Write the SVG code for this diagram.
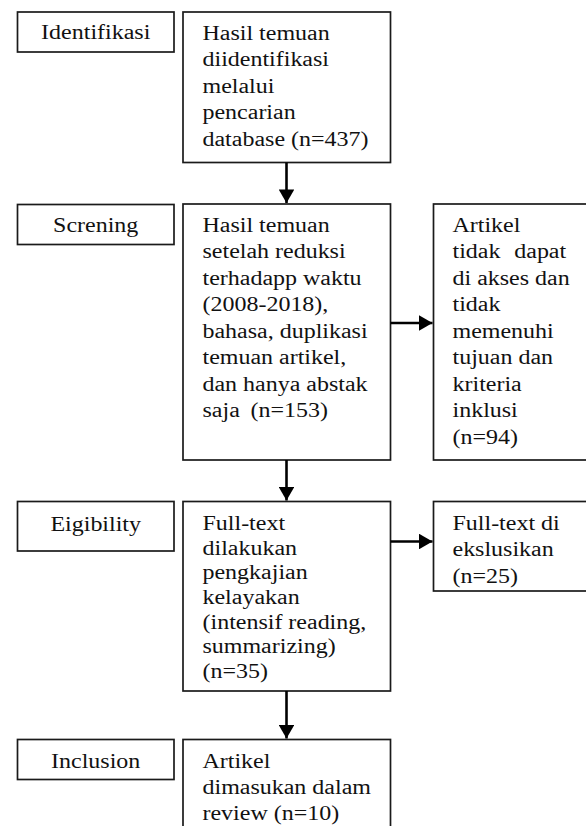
<svg xmlns="http://www.w3.org/2000/svg" width="586" height="826" viewBox="0 0 586 826">
<style>
.box{fill:#fff;stroke:#1a1a1a;stroke-width:1.7}
text{font-family:'Liberation Serif','Tinos','Times New Roman',serif;font-size:20.5px;fill:#111}
.c{text-anchor:middle}
.arr{stroke:#000;stroke-width:2.6;fill:none}
</style>
<defs>
<marker id="ah" markerWidth="6" markerHeight="6" refX="5.2" refY="3" orient="auto" markerUnits="strokeWidth">
<path d="M0,0 L5.2,3 L0,6 Z" fill="#000"/>
</marker>
</defs>
<rect width="586" height="826" fill="#fff"/>

<g id="label-identifikasi">
<rect class="box" x="17.5" y="12" width="156.5" height="40"/>
<text class="c" transform="translate(95.7,38.5) scale(1.17,1)">Identifikasi</text>
</g>
<g id="label-screning">
<rect class="box" x="17.5" y="204.5" width="156.5" height="40"/>
<text class="c" transform="translate(95.7,231.5) scale(1.17,1)">Screning</text>
</g>
<g id="label-eligibility">
<rect class="box" x="17.5" y="501.5" width="156.5" height="49.5"/>
<text class="c" transform="translate(95.7,531) scale(1.17,1)">Eigibility</text>
</g>
<g id="label-inclusion">
<rect class="box" x="17.5" y="739.5" width="156.5" height="40"/>
<text class="c" transform="translate(95.7,768) scale(1.17,1)">Inclusion</text>
</g>

<g id="box-identified">
<rect class="box" x="183" y="12" width="207.5" height="150.5"/>
<text transform="translate(202.5,40) scale(1.17,1)">
<tspan x="0" y="0">Hasil temuan</tspan>
<tspan x="0" y="26.5">diidentifikasi</tspan>
<tspan x="0" y="53">melalui</tspan>
<tspan x="0" y="79.5">pencarian</tspan>
<tspan x="0" y="106">database (n=437)</tspan>
</text>
</g>

<g id="box-screened">
<rect class="box" x="183" y="204" width="207.5" height="256"/>
<text transform="translate(202.5,232) scale(1.17,1)">
<tspan x="0" y="0">Hasil temuan</tspan>
<tspan x="0" y="26.5">setelah reduksi</tspan>
<tspan x="0" y="53">terhadapp waktu</tspan>
<tspan x="0" y="79.5">(2008-2018),</tspan>
<tspan x="0" y="106">bahasa, duplikasi</tspan>
<tspan x="0" y="132.5">temuan artikel,</tspan>
<tspan x="0" y="159">dan hanya abstak</tspan>
<tspan x="0" y="185.5">saja</tspan><tspan x="41" y="185.5">(n=153)</tspan>
</text>
</g>

<g id="box-excluded-screening">
<rect class="box" x="433.5" y="204" width="170" height="256"/>
<text transform="translate(452.5,232) scale(1.17,1)">
<tspan x="0" y="0">Artikel</tspan>
<tspan x="0" y="26.5">tidak</tspan><tspan x="52.8" y="26.5">dapat</tspan>
<tspan x="0" y="53">di akses dan</tspan>
<tspan x="0" y="79.5">tidak</tspan>
<tspan x="0" y="106">memenuhi</tspan>
<tspan x="0" y="132.5">tujuan dan</tspan>
<tspan x="0" y="159">kriteria</tspan>
<tspan x="0" y="185.5">inklusi</tspan>
<tspan x="0" y="212">(n=94)</tspan>
</text>
</g>

<g id="box-eligibility">
<rect class="box" x="183" y="501.5" width="207.5" height="189.5"/>
<text transform="translate(202.5,530) scale(1.17,1)">
<tspan x="0" y="0">Full-text</tspan>
<tspan x="0" y="24.7">dilakukan</tspan>
<tspan x="0" y="49.4">pengkajian</tspan>
<tspan x="0" y="74.1">kelayakan</tspan>
<tspan x="0" y="98.8">(intensif reading,</tspan>
<tspan x="0" y="123.5">summarizing)</tspan>
<tspan x="0" y="148.2">(n=35)</tspan>
</text>
</g>

<g id="box-excluded-fulltext">
<rect class="box" x="433.5" y="501.5" width="170" height="89.5"/>
<text transform="translate(452.5,530) scale(1.17,1)">
<tspan x="0" y="0">Full-text di</tspan>
<tspan x="0" y="26.5">ekslusikan</tspan>
<tspan x="0" y="53">(n=25)</tspan>
</text>
</g>

<g id="box-included">
<rect class="box" x="183" y="739.5" width="207.5" height="100"/>
<text transform="translate(202.5,768) scale(1.17,1)">
<tspan x="0" y="0">Artikel</tspan>
<tspan x="0" y="26">dimasukan dalam</tspan>
<tspan x="0" y="52">review (n=10)</tspan>
</text>
</g>

<g id="connectors">
<line class="arr" x1="286.5" y1="162.5" x2="286.5" y2="203" marker-end="url(#ah)"/>
<line class="arr" x1="286.5" y1="460" x2="286.5" y2="500.5" marker-end="url(#ah)"/>
<line class="arr" x1="286.5" y1="691" x2="286.5" y2="738.5" marker-end="url(#ah)"/>
<line class="arr" x1="390.5" y1="323" x2="432.5" y2="323" marker-end="url(#ah)"/>
<line class="arr" x1="390.5" y1="541.5" x2="432.5" y2="541.5" marker-end="url(#ah)"/>
</g>
</svg>
